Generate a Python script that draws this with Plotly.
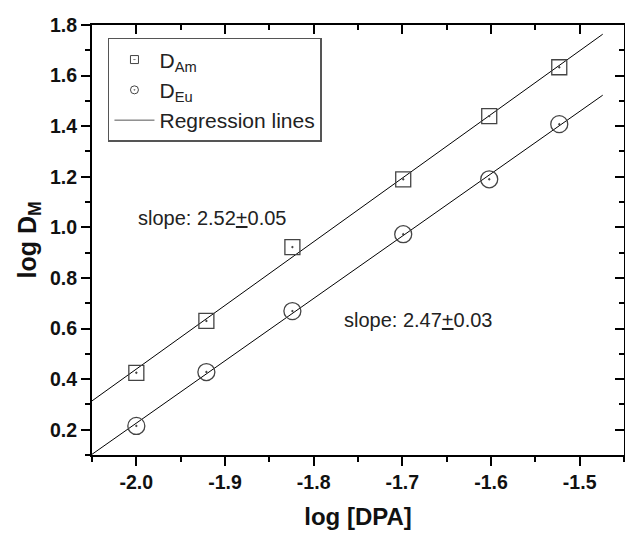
import numpy as np
import plotly.graph_objects as go

# data
log_dpa = [-2.0, -1.921, -1.824, -1.699, -1.602, -1.523]
log_d_am = [0.425, 0.63, 0.922, 1.19, 1.44, 1.633]
log_d_eu = [0.215, 0.428, 0.669, 0.973, 1.19, 1.408]
line_x_range = [-2.05, -1.474]

x_tickvals = [-2.0, -1.9, -1.8, -1.7, -1.6, -1.5]
x_ticktext = ["-2.0", "-1.9", "-1.8", "-1.7", "-1.6", "-1.5"]
y_tickvals = [0.2, 0.4, 0.6, 0.8, 1.0, 1.2, 1.4, 1.6, 1.8]
y_ticktext = ["0.2", "0.4", "0.6", "0.8", "1.0", "1.2", "1.4", "1.6", "1.8"]

slope_am_text = "slope: 2.52<u>+</u>0.05"
slope_eu_text = "slope: 2.47<u>+</u>0.03"

FONT = "Arial, Liberation Sans, Helvetica, sans-serif"
MK = "#444444"

# regression lines
lx = np.array(line_x_range)
p_am = np.polyfit(log_dpa, log_d_am, 1)
p_eu = np.polyfit(log_dpa, log_d_eu, 1)

fig = go.Figure()
fig.add_trace(go.Scatter(x=lx, y=np.polyval(p_am, lx), mode="lines",
                         line=dict(color="black", width=1), showlegend=False))
fig.add_trace(go.Scatter(x=lx, y=np.polyval(p_eu, lx), mode="lines",
                         line=dict(color="black", width=1), showlegend=False))
fig.add_trace(go.Scatter(x=log_dpa, y=log_d_am, mode="markers",
                         marker=dict(symbol="square-open-dot", size=15, color=MK,
                                     line=dict(width=1.3, color=MK)),
                         showlegend=False))
fig.add_trace(go.Scatter(x=log_dpa, y=log_d_eu, mode="markers",
                         marker=dict(symbol="circle-open-dot", size=17, color=MK,
                                     line=dict(width=1.3, color=MK)),
                         showlegend=False))
# legend entries
fig.add_trace(go.Scatter(x=[None], y=[None], mode="markers", name="D<sub>Am</sub>",
                         marker=dict(symbol="square-open-dot", size=8, color=MK,
                                     line=dict(width=1, color=MK))))
fig.add_trace(go.Scatter(x=[None], y=[None], mode="markers", name="D<sub>Eu</sub>",
                         marker=dict(symbol="circle-open-dot", size=8, color=MK,
                                     line=dict(width=1, color=MK))))
fig.add_trace(go.Scatter(x=[None], y=[None], mode="lines", name="Regression lines",
                         line=dict(color="#555555", width=1)))
# dummy trace for mirrored axes
fig.add_trace(go.Scatter(x=[None], y=[None], xaxis="x2", yaxis="y2", showlegend=False,
                         hoverinfo="skip"))

fig.add_annotation(x=-2.0, y=1.037, text=slope_am_text, showarrow=False,
                   xanchor="left", yanchor="middle",
                   font=dict(family=FONT, size=20, color="#222"))
fig.add_annotation(x=-1.768, y=0.634, text=slope_eu_text, showarrow=False,
                   xanchor="left", yanchor="middle",
                   font=dict(family=FONT, size=20, color="#222"))

xr = [-2.05, -1.45]
yr = [0.1, 1.8]
axis_common = dict(showline=True, linecolor="black", linewidth=2, showgrid=False,
                   zeroline=False, ticks="outside", ticklen=9, tickwidth=1.5,
                   tickcolor="black",
                   tickfont=dict(family=FONT, size=19.5, color="#111", weight="bold"))

fig.update_layout(
    width=625, height=534,
    margin=dict(l=92, r=1, t=25, b=79),
    plot_bgcolor="white", paper_bgcolor="white",
    xaxis=dict(range=xr, tickmode="array", tickvals=x_tickvals, ticktext=x_ticktext,
               minor=dict(ticks="outside", ticklen=5, tickwidth=1.5, tickcolor="black",
                          dtick=0.05, tick0=-2.0),
               title=dict(text="<b>log [DPA]</b>", font=dict(family=FONT, size=24, color="#111"),
                          standoff=16),
               **axis_common),
    yaxis=dict(range=yr, tickmode="array", tickvals=y_tickvals, ticktext=y_ticktext,
               minor=dict(ticks="outside", ticklen=5, tickwidth=1.5, tickcolor="black",
                          dtick=0.1, tick0=0.2),
               title=dict(text="<b>log D<sub>M</sub></b>", font=dict(family=FONT, size=25, color="#111"),
                          standoff=6),
               **axis_common),
    xaxis2=dict(range=xr, overlaying="x", side="top", showline=True, linecolor="black",
                linewidth=2, showgrid=False, zeroline=False, ticks="inside", ticklen=9,
                tickwidth=1.5, tickcolor="black", showticklabels=False,
                tickmode="array", tickvals=x_tickvals,
                minor=dict(ticks="inside", ticklen=5, tickwidth=1.5, tickcolor="black",
                           dtick=0.05, tick0=-2.0)),
    yaxis2=dict(range=yr, overlaying="y", side="right", showline=True, linecolor="black",
                linewidth=2, showgrid=False, zeroline=False, ticks="inside", ticklen=9,
                tickwidth=1.5, tickcolor="black", showticklabels=False,
                tickmode="array", tickvals=y_tickvals,
                minor=dict(ticks="inside", ticklen=5, tickwidth=1.5, tickcolor="black",
                           dtick=0.1, tick0=0.2)),
    legend=dict(x=0.03, y=0.97, xanchor="left", yanchor="top",
                bgcolor="white", bordercolor="#555555", borderwidth=1.5,
                font=dict(family=FONT, size=21, color="#222"),
                tracegroupgap=0, itemwidth=40),
    showlegend=True,
)

fig.write_html("out.html")
